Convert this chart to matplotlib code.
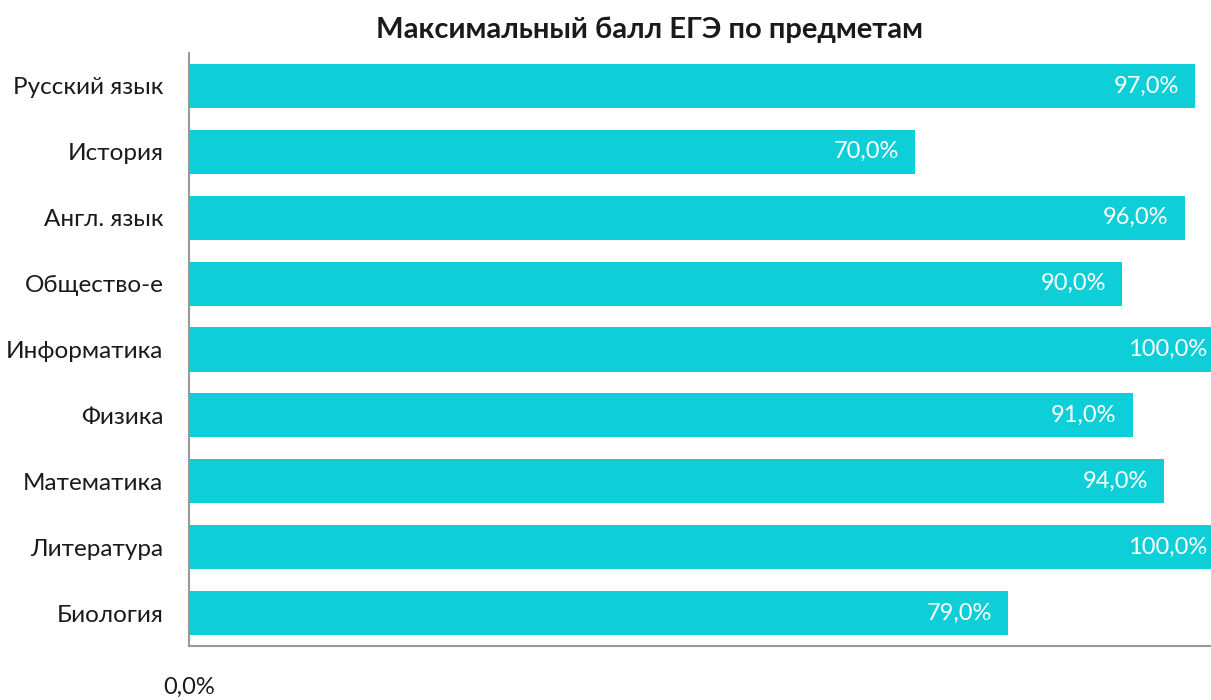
import matplotlib
matplotlib.use("Agg")
import matplotlib.pyplot as plt
from matplotlib.ticker import FuncFormatter

categories = ["Русский язык", "История", "Англ. язык", "Общество-е", "Информатика",
              "Физика", "Математика", "Литература", "Биология"]
values = [97.0, 70.0, 96.0, 90.0, 100.0, 91.0, 94.0, 100.0, 79.0]
title = "Максимальный балл ЕГЭ по предметам"

plt.rcParams['font.family'] = ['Lato', 'DejaVu Sans']

fig = plt.figure(figsize=(12.11, 7.0), dpi=100)
# axis extends slightly past the right edge of the figure (as in the reference)
ax = fig.add_axes([189/1211, 54/700, 1037/1211, (646-53)/700])

color = "#0ECFD8"
y = list(range(len(categories)))
ax.barh(y, values, height=0.67, color=color)
ax.set_ylim(len(categories) - 0.5, -0.5)
ax.set_xlim(0, 100)
ax.set_yticks(y)
ax.set_yticklabels(categories, fontsize=17.5, color="#1a1a1a")
ax.set_xticks([0])
ax.xaxis.set_major_formatter(FuncFormatter(lambda v, p: f"{v:.1f}".replace(".", ",") + "%"))
ax.tick_params(axis="x", length=0, pad=22, labelsize=17, labelcolor="#1a1a1a")
ax.tick_params(axis="y", length=0, pad=18.5)

for s in ["top", "right"]:
    ax.spines[s].set_visible(False)
for s in ["left", "bottom"]:
    ax.spines[s].set_color("#999999")
    ax.spines[s].set_linewidth(1.5)

for yi, v in zip(y, values):
    off = -19 if v >= 100 else -16
    ax.annotate(f"{v:.1f}".replace(".", ",") + "%", xy=(v, yi), xytext=(off, 0),
                textcoords="offset pixels", ha="right", va="center",
                color="white", fontsize=17, annotation_clip=False)

fig.text(649/1211, 1 - 30/700, title, ha="center", va="center",
         fontsize=21, fontweight="bold", color="#1a1a1a")

fig.savefig("out.png", dpi=100)
